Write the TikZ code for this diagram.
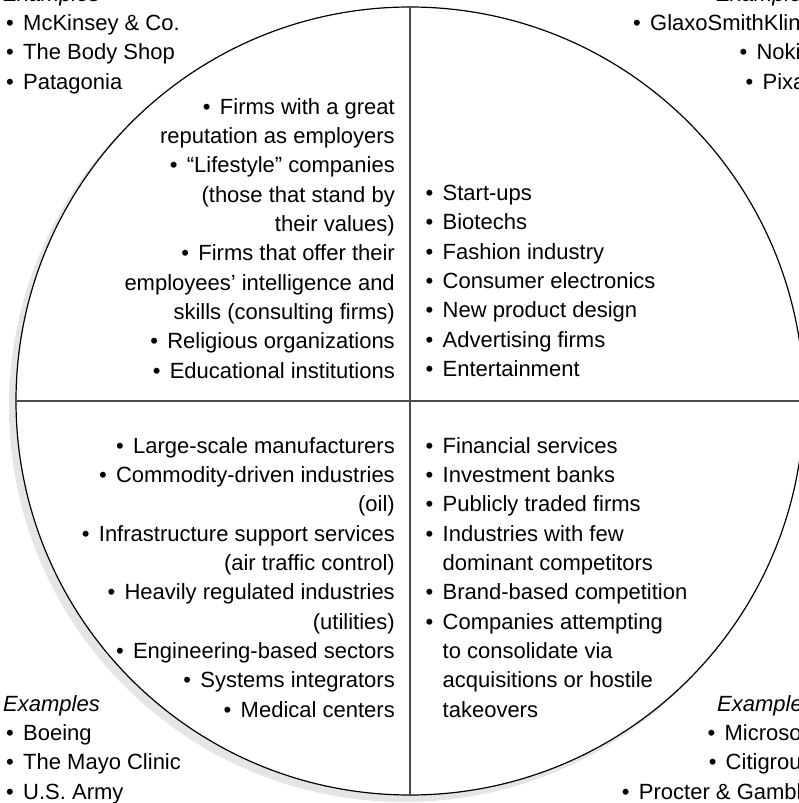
\documentclass[tikz,border=0pt]{standalone}
\usepackage{fontspec}
\setmainfont{Liberation Sans}
\newcommand\bul{\makebox[17pt][l]{•}}
\newcommand\ind{\hspace*{17pt}}
\begin{document}
\begin{tikzpicture}[x=1pt,y=-1pt,
  txt/.style={inner sep=0pt, font={\fontsize{22}{29.33}\selectfont}},
  rblock/.style={txt, align=right, anchor=base east},
  lblock/.style={txt, align=left, anchor=base west},
  ring/.style={circle, draw=black, line width=1.2pt, fill=white, minimum size=788pt, inner sep=0pt},
  shade/.style={circle, fill=gray!20, minimum size=790pt, inner sep=0pt},
  divider/.style={line width=2pt, draw=black!70}]
\useasboundingbox (0,0) rectangle (799,803);
\node[shade] (shadow) at (404,407) {};
\node[ring] (c) at (410,401) {};
\draw[divider] (c.west) -- (c.east);
\draw[divider] (c.north) -- (c.south);

\node[rblock] (tl) at (395,378) {\bul Firms with a great\\ reputation as employers\\ \bul “Lifestyle” companies\\ (those that stand by\\ their values)\\ \bul Firms that offer their\\ employees’ intelligence and\\ skills (consulting firms)\\ \bul Religious organizations\\ \bul Educational institutions};

\node[lblock] (tr) at (425.5,376.5) {\bul Start-ups\\ \bul Biotechs\\ \bul Fashion industry\\ \bul Consumer electronics\\ \bul New product design\\ \bul Advertising firms\\ \bul Entertainment};

\node[rblock] (bl) at (395,717) {\bul Large-scale manufacturers\\ \bul Commodity-driven industries\\ (oil)\\ \bul Infrastructure support services\\ (air traffic control)\\ \bul Heavily regulated industries\\ (utilities)\\ \bul Engineering-based sectors\\ \bul Systems integrators\\ \bul Medical centers};

\node[lblock] (br) at (425.5,717) {\bul Financial services\\ \bul Investment banks\\ \bul Publicly traded firms\\ \bul Industries with few\\ \ind dominant competitors\\ \bul Brand-based competition\\ \bul Companies attempting\\ \ind to consolidate via\\ \ind acquisitions or hostile\\ \ind takeovers};

\node[lblock] (etl) at (6,89) {\hspace*{-3pt}\textit{Examples}\\ \bul McKinsey \& Co.\\ \bul The Body Shop\\ \bul Patagonia};
\node[rblock] (etr) at (813,89) {\textit{Examples}\\ \bul GlaxoSmithKline\\ \bul Nokia\\ \bul Pixar};
\node[lblock] (ebl) at (6,799) {\hspace*{-3pt}\textit{Examples}\\ \bul Boeing\\ \bul The Mayo Clinic\\ \bul U.S. Army};
\node[rblock] (ebr) at (814,799) {\textit{Examples}\\ \bul Microsoft\\ \bul Citigroup\\ \bul Procter \& Gamble};
\end{tikzpicture}
\end{document}
